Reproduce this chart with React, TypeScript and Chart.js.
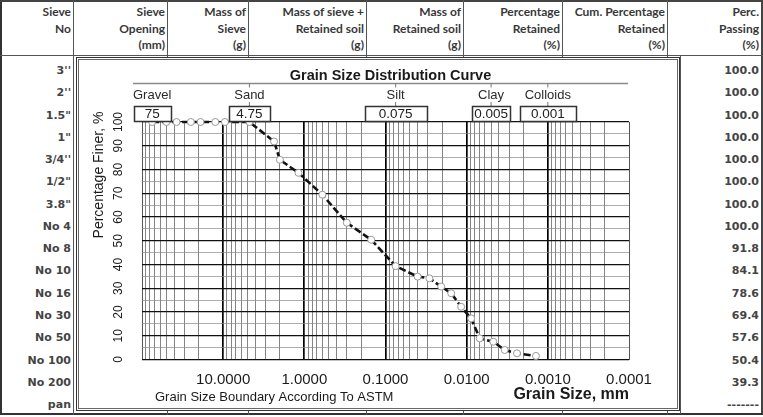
import React, { useEffect, useRef } from 'react';
import { Chart, registerables } from 'chart.js';

Chart.register(...registerables);

// ---------- DATA ----------
const headerLines: string[][] = [
  ['Sieve', 'No', ''],
  ['Sieve', 'Opening', '(mm)'],
  ['Mass of', 'Sieve', '(g)'],
  ['Mass of sieve +', 'Retained soil', '(g)'],
  ['Mass of', 'Retained soil', '(g)'],
  ['Percentage', 'Retained', '(%)'],
  ['Cum. Percentage', 'Retained', '(%)'],
  ['Perc.', 'Passing', '(%)'],
];
const sieveNumbers = [`3''`, `2''`, `1.5"`, `1"`, `3/4''`, `1/2"`, `3.8"`, 'No 4', 'No 8', 'No 10', 'No 16', 'No 30', 'No 50', 'No 100', 'No 200', 'pan'];
const percPassingText = ['100.0', '100.0', '100.0', '100.0', '100.0', '100.0', '100.0', '100.0', '91.8', '84.1', '78.6', '69.4', '57.6', '50.4', '39.3', '-------'];

const sieveOpeningsMm = [75, 50, 37.5, 25, 19, 12.5, 9.5, 4.75, 2.36, 2.0, 1.18, 0.6, 0.3, 0.15, 0.075];
const sievePercentFiner = [100, 100, 100, 100, 100, 100, 100, 100, 91.8, 84.1, 78.6, 69.4, 57.6, 50.4, 39.3];
const hydroDiametersMm = [0.0402, 0.0288, 0.0206, 0.0155, 0.0117, 0.0088, 0.0069, 0.0047, 0.0034, 0.0024, 0.0014];
const hydroPercentFiner = [34.9, 34.2, 30.7, 27.9, 22.2, 17.3, 8.9, 7.5, 4.0, 2.6, 1.5];

const boundaryNames = ['Gravel', 'Sand', 'Silt', 'Clay', 'Colloids'];
const boundarySizesMm = [75, 4.75, 0.075, 0.005, 0.001];
const boundaryBoxText = ['75', '4.75', '0.075', '0.005', '0.001'];

const xTickValues = [10, 1, 0.1, 0.01, 0.001, 0.0001];
const xTickLabels = ['10.0000', '1.0000', '0.1000', '0.0100', '0.0010', '0.0001'];
const yTickValues = [0, 10, 20, 30, 40, 50, 60, 70, 80, 90, 100];

const chartTitle = 'Grain Size Distribution Curve';
const yTitle = 'Percentage Finer, %';
const xTitle = 'Grain Size, mm';
const boundaryNote = 'Grain Size Boundary According To ASTM';

// ---------- STYLE ----------
const W = 763;
const H = 417;
const colRights = [73, 167, 248, 366, 463, 562, 667, 761];
const boxWidths = [37, 41, 62, 38, 56];
const FONT = '"Liberation Sans", Arial, sans-serif';

const isDecade = (v: number) => Math.abs(Math.log10(v) - Math.round(Math.log10(v))) < 1e-6;

const overlayPlugin = {
  id: 'overlay',
  afterDraw(chart: any) {
    const ctx: CanvasRenderingContext2D = chart.ctx;
    const xs = chart.scales.x;
    const ys = chart.scales.y;
    const a = chart.chartArea;
    ctx.save();
    ctx.fillStyle = '#1a1a1a';
    ctx.textBaseline = 'middle';

    // Y tick labels (rotated)
    ctx.font = `12px ${FONT}`;
    ctx.textAlign = 'center';
    yTickValues.forEach((v) => {
      const y = ys.getPixelForValue(v);
      ctx.save();
      ctx.translate(a.left - 23, y);
      ctx.rotate(-Math.PI / 2);
      ctx.fillText(String(v), 0, 0);
      ctx.restore();
    });
    // Y title
    ctx.save();
    ctx.font = `14px ${FONT}`;
    ctx.translate(a.left - 43, a.top + 53);
    ctx.rotate(-Math.PI / 2);
    ctx.fillText(yTitle, 0, 0);
    ctx.restore();

    // X tick labels
    ctx.font = `15px ${FONT}`;
    xTickValues.forEach((v, i) => {
      ctx.fillText(xTickLabels[i], xs.getPixelForValue(v), a.bottom + 20);
    });
    // bottom texts
    ctx.font = `13px ${FONT}`;
    ctx.textAlign = 'left';
    ctx.fillText(boundaryNote, a.left + 13, a.bottom + 37.5);
    ctx.font = `bold 16px ${FONT}`;
    ctx.textAlign = 'right';
    ctx.fillText(xTitle, a.right, a.bottom + 35.5);

    // Chart title
    ctx.font = `bold 14.5px ${FONT}`;
    ctx.textAlign = 'center';
    ctx.fillText(chartTitle, (a.left + a.right) / 2 + 5, a.top - 46);

    // boundary line
    const lineY = a.top - 38.5;
    ctx.strokeStyle = '#8a8a8a';
    ctx.lineWidth = 1.5;
    ctx.beginPath();
    ctx.moveTo(a.left - 9, lineY);
    ctx.lineTo(a.right - 1, lineY);
    ctx.stroke();

    // boundary labels and boxes
    boundarySizesMm.forEach((d, i) => {
      const x = xs.getPixelForValue(d);
      ctx.fillStyle = '#2a2a2a';
      ctx.font = `13px ${FONT}`;
      ctx.textAlign = 'center';
      ctx.fillText(boundaryNames[i], x, a.top - 27);
      if (i > 0) {
        ctx.strokeStyle = '#777';
        ctx.lineWidth = 1;
        ctx.beginPath();
        ctx.moveTo(x, lineY);
        ctx.lineTo(x, lineY + 4);
        ctx.moveTo(x, a.top - 20);
        ctx.lineTo(x, a.top - 16);
        ctx.stroke();
      }
      const bw = boxWidths[i];
      const bx = Math.round(x - bw / 2) + 0.5;
      const by = a.top - 15.5;
      ctx.fillStyle = '#fff';
      ctx.fillRect(bx, by, bw, 15);
      ctx.strokeStyle = '#333';
      ctx.lineWidth = 1.5;
      ctx.strokeRect(bx, by, bw, 15);
      ctx.fillStyle = '#222';
      ctx.font = `13.5px ${FONT}`;
      ctx.fillText(boundaryBoxText[i], x, by + 8);
    });
    ctx.restore();
  },
};

export default function App() {
  const canvasRef = useRef<HTMLCanvasElement | null>(null);

  useEffect(() => {
    if (!canvasRef.current) return;
    const points = [
      ...sieveOpeningsMm.map((d, i) => ({ x: d, y: sievePercentFiner[i] })),
      ...hydroDiametersMm.map((d, i) => ({ x: d, y: hydroPercentFiner[i] })),
    ];
    const chart = new Chart(canvasRef.current, {
      type: 'line',
      data: {
        datasets: [
          {
            data: points,
            borderColor: '#121212',
            borderWidth: 2.6,
            borderDash: [7, 3],
            pointRadius: 3.5,
            pointBackgroundColor: '#ffffff',
            pointBorderColor: '#999999',
            pointBorderWidth: 1,
            tension: 0,
            clip: false,
          } as any,
        ],
      },
      options: {
        responsive: false,
        animation: false,
        events: [],
        layout: { padding: { left: 62, right: 47, top: 61, bottom: 47.5 } },
        plugins: { legend: { display: false }, tooltip: { enabled: false }, title: { display: false } },
        scales: {
          x: {
            type: 'logarithmic',
            reverse: true,
            min: 0.0001,
            max: 100,
            afterBuildTicks: (scale: any) => {
              const t: { value: number }[] = [];
              for (let e = -4; e <= 1; e++) {
                for (let m = 1; m <= 9; m++) t.push({ value: m * Math.pow(10, e) });
              }
              t.push({ value: 100 });
              scale.ticks = t;
            },
            ticks: { display: false, autoSkip: false },
            border: { display: false },
            grid: {
              drawTicks: false,
              tickLength: 0,
              color: (c: any) => {
                const v = c.tick?.value;
                if (v == null) return '#666';
                if (v >= 99 || v <= 0.00011) return '#555';
                return isDecade(v) ? '#000' : '#666';
              },
              lineWidth: (c: any) => {
                const v = c.tick?.value;
                if (v == null) return 0.8;
                if (v >= 99 || v <= 0.00011) return 1;
                return isDecade(v) ? 1.7 : 0.8;
              },
            },
          },
          y: {
            min: 0,
            max: 100,
            ticks: { display: false, stepSize: 5 },
            border: { display: false },
            grid: {
              drawTicks: false,
              tickLength: 0,
              color: (c: any) => (c.tick && c.tick.value % 10 === 0 ? '#111' : '#8a8a8a'),
              lineWidth: (c: any) => (c.tick && c.tick.value % 10 === 0 ? 1.3 : 0.7),
            },
          },
        },
      },
      plugins: [overlayPlugin],
    });
    return () => chart.destroy();
  }, []);

  const headerFont = 'Lato, "Open Sans", sans-serif';
  const bodyFont = '"DejaVu Sans", Verdana, sans-serif';

  return (
    <div style={{ position: 'absolute', left: 0, top: 0, width: W, height: H, background: '#fff', overflow: 'hidden' }}>
      {/* outer table border */}
      <div style={{ position: 'absolute', left: 0, top: 0, width: 2, height: 415, background: '#333' }} />
      <div style={{ position: 'absolute', left: 0, top: 0, width: W, height: 2, background: '#444' }} />
      <div style={{ position: 'absolute', left: 761, top: 0, width: 2, height: 415, background: '#444' }} />
      <div style={{ position: 'absolute', left: 0, top: 413, width: W, height: 2, background: '#333' }} />
      {/* header bottom line */}
      <div style={{ position: 'absolute', left: 0, top: 55, width: W, height: 1, background: '#555' }} />
      {/* column lines */}
      {colRights.slice(0, 7).map((x, i) => (
        <div key={'cl' + i} style={{ position: 'absolute', left: x, top: 0, width: 1, height: 415, background: '#555' }} />
      ))}
      <div style={{ position: 'absolute', left: 680, top: 56, width: 1, height: 358, background: '#555' }} />
      {/* header text */}
      {headerLines.map((lines, i) =>
        lines.map((t, j) => (
          <div
            key={'h' + i + '_' + j}
            style={{
              position: 'absolute',
              right: W - (colRights[i] - 2),
              top: 4 + j * 16.5,
              font: `bold 12px ${headerFont}`,
              lineHeight: '16px',
              color: '#383838',
              whiteSpace: 'nowrap',
            }}
          >
            {t}
          </div>
        ))
      )}
      {/* body first column */}
      {sieveNumbers.map((t, i) => (
        <div
          key={'s' + i}
          style={{
            position: 'absolute',
            right: W - 71,
            top: 71 + 22.27 * i - 8,
            font: `bold 11px ${bodyFont}`,
            lineHeight: '16px',
            color: '#444',
            whiteSpace: 'nowrap',
          }}
        >
          {t}
        </div>
      ))}
      {/* body last column */}
      {percPassingText.map((t, i) => (
        <div
          key={'p' + i}
          style={{
            position: 'absolute',
            right: W - 759,
            top: 71 + 22.27 * i - 8,
            font: `bold 11px ${bodyFont}`,
            lineHeight: '16px',
            color: '#444',
            whiteSpace: 'nowrap',
          }}
        >
          {t}
        </div>
      ))}
      {/* chart box (double border) */}
      <div style={{ position: 'absolute', left: 76, top: 57, width: 604, height: 354, border: '1px solid #333', boxSizing: 'border-box', background: '#fff' }} />
      <div style={{ position: 'absolute', left: 78, top: 59, width: 600, height: 350, border: '1px solid #666', boxSizing: 'border-box', background: '#fff' }} />
      <canvas ref={canvasRef} width={596} height={346} style={{ position: 'absolute', left: 80, top: 61, width: 596, height: 346, display: 'block' }} />
    </div>
  );
}
